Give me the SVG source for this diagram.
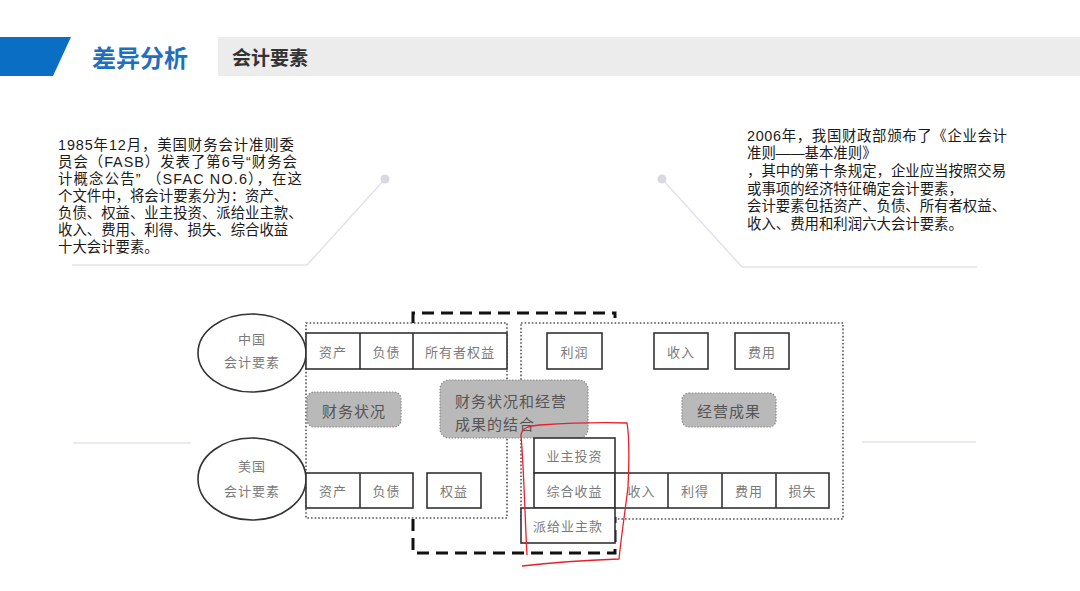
<svg xmlns="http://www.w3.org/2000/svg" width="1080" height="591" viewBox="0 0 1080 591">
<style>
.para{font-family:"Liberation Sans","Noto Sans CJK SC",sans-serif;font-size:14.4px;fill:#1a1a1a}
.box{fill:#fff;stroke:#333;stroke-width:1.6}
.bt{font-family:"Noto Sans CJK SC",sans-serif;font-size:13px;fill:#7a7a7a;text-anchor:middle;dominant-baseline:central;letter-spacing:1px}
.gray{fill:#b9b9b9;stroke:#8a8a8a;stroke-width:1.2;stroke-dasharray:1.5 1.5}
.gt{font-family:"Noto Sans CJK SC",sans-serif;font-size:15px;fill:#555;dominant-baseline:central;letter-spacing:1px}
.dot{fill:none;stroke:#555;stroke-width:1.6;stroke-dasharray:1.6 2}
.dash{fill:none;stroke:#111;stroke-width:3;stroke-dasharray:12 7}
.deco{fill:none;stroke:#e2e2ec;stroke-width:1.5}
.ell{fill:#fff;stroke:#333;stroke-width:1.6}
</style>
<rect width="1080" height="591" fill="#fff"/>
<g id="header">
<polygon points="0,37 71,37 53,76 0,76" fill="#0b6ec5"/>
<text x="92" y="67" font-family="Noto Sans CJK SC,sans-serif" font-size="24" font-weight="bold" fill="#1f6fc1">差异分析</text>
<rect x="218" y="37" width="862" height="39" fill="#ececec"/>
<text x="232" y="65" font-family="Noto Sans CJK SC,sans-serif" font-size="19" font-weight="bold" fill="#333">会计要素</text>
</g>
<g id="decorations">
<path class="deco" d="M385,179 L307,265 H72"/>
<circle cx="385" cy="179" r="4.5" fill="#d9d9e6"/>
<path class="deco" d="M662,179 L742,267 H977"/>
<circle cx="662" cy="179" r="4.5" fill="#d9d9e6"/>
<line class="deco" x1="73" y1="443" x2="191" y2="443"/>
<line class="deco" x1="862" y1="442" x2="976" y2="442"/>
</g>
<g id="text-left" class="para">
<text x="58" y="150" textLength="236" lengthAdjust="spacing">1985年12月，美国财务会计准则委</text>
<text x="58" y="167" textLength="239" lengthAdjust="spacing">员会（FASB）发表了第6号“财务会</text>
<text x="58" y="184" textLength="244" lengthAdjust="spacing">计概念公告” （SFAC  NO.6），在这</text>
<text x="58" y="201">个文件中，将会计要素分为：资产、</text>
<text x="58" y="217.5">负债、权益、业主投资、派给业主款、</text>
<text x="58" y="234.5">收入、费用、利得、损失、综合收益</text>
<text x="58" y="251.5">十大会计要素。</text>
</g>
<g id="text-right" class="para">
<text x="747" y="140.5" textLength="260" lengthAdjust="spacing">2006年，我国财政部颁布了《企业会计</text>
<text x="747" y="158">准则——基本准则》</text>
<text x="747" y="176">，其中的第十条规定，企业应当按照交易</text>
<text x="747" y="193.5">或事项的经济特征确定会计要素，</text>
<text x="747" y="211">会计要素包括资产、负债、所有者权益、</text>
<text x="747" y="228.5">收入、费用和利润六大会计要素。</text>
</g>
<g id="connectors">
<path class="dash" d="M413,323 V313 H615 V318"/>
<path class="dash" d="M413,519 V553 H615 V517"/>
<rect class="dot" x="306" y="323" width="201" height="195"/>
<rect class="dot" x="521" y="323" width="322" height="196"/>
</g>
<g id="china">
<ellipse class="ell" cx="252" cy="353" rx="54" ry="39"/>
<text class="bt" x="252" y="338">中国</text>
<text class="bt" x="252" y="361">会计要素</text>
</g>
<g id="cn-boxes">
<rect class="box" x="306" y="333" width="201" height="36"/>
<line class="box" x1="360" y1="333" x2="360" y2="369"/>
<line class="box" x1="413" y1="333" x2="413" y2="369"/>
<text class="bt" x="333" y="351">资产</text>
<text class="bt" x="386.5" y="351">负债</text>
<text class="bt" x="460" y="351">所有者权益</text>
</g>
<g id="cn-right">
<rect class="box" x="547" y="333" width="55" height="36"/>
<text class="bt" x="574.5" y="351">利润</text>
<rect class="box" x="654" y="333" width="54" height="36"/>
<text class="bt" x="681" y="351">收入</text>
<rect class="box" x="735" y="333" width="54" height="36"/>
<text class="bt" x="762" y="351">费用</text>
</g>
<g id="caiwu">
<rect class="gray" x="307" y="392" width="94" height="35" rx="7"/>
<text class="gt" x="354" y="410" text-anchor="middle">财务状况</text>
</g>
<g id="jiehe">
<rect class="gray" x="440" y="380" width="148" height="58" rx="9"/>
<text class="gt" x="455" y="400" font-size="16">财务状况和经营</text>
<text class="gt" x="455" y="423" font-size="16">成果的结合</text>
</g>
<g id="jingying">
<rect class="gray" x="682" y="393" width="94" height="34" rx="7"/>
<text class="gt" x="729" y="410" text-anchor="middle">经营成果</text>
</g>
<g id="us">
<ellipse class="ell" cx="252" cy="479" rx="54" ry="41"/>
<text class="bt" x="252" y="465">美国</text>
<text class="bt" x="252" y="490">会计要素</text>
</g>
<g id="us-boxes">
<rect class="box" x="306" y="473" width="107" height="35"/>
<line class="box" x1="360" y1="473" x2="360" y2="508"/>
<text class="bt" x="333" y="490.5">资产</text>
<text class="bt" x="386.5" y="490.5">负债</text>
<rect class="box" x="427" y="473" width="54" height="35"/>
<text class="bt" x="454" y="490.5">权益</text>
</g>
<g id="us-right">
<rect class="box" x="534" y="438" width="81" height="35"/>
<text class="bt" x="574.5" y="455.5">业主投资</text>
<rect class="box" x="534" y="473" width="81" height="35"/>
<text class="bt" x="574.5" y="490.5">综合收益</text>
<rect class="box" x="615" y="473" width="214" height="35"/>
<line class="box" x1="668" y1="473" x2="668" y2="508"/>
<line class="box" x1="722" y1="473" x2="722" y2="508"/>
<line class="box" x1="776" y1="473" x2="776" y2="508"/>
<text class="bt" x="641.5" y="490.5">收入</text>
<text class="bt" x="695" y="490.5">利得</text>
<text class="bt" x="749" y="490.5">费用</text>
<text class="bt" x="802.5" y="490.5">损失</text>
<rect class="box" x="521" y="508" width="94" height="35"/>
<text class="bt" x="568" y="525.5">派给业主款</text>
</g>
<g id="annotation">
<path d="M527,555 C525,520 524,470 521,435 C522,428 528,426 540,425 C570,423 600,422 627,423 C630,440 629,465 628,487 C626,505 622,530 619,559 C590,560 555,562 522,566" fill="none" stroke="#e8202a" stroke-width="1.3"/>
</g>
</svg>
